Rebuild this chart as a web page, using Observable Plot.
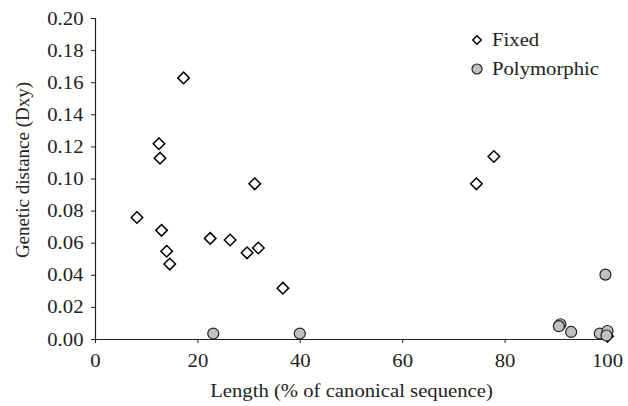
<!DOCTYPE html>
<html><head><meta charset="utf-8">
<script src="https://cdn.jsdelivr.net/npm/d3@7"></script>
<script src="https://cdn.jsdelivr.net/npm/@observablehq/plot@0.6"></script>
<style>
body{margin:0;background:#fff;}
#wrap{position:relative;width:628px;height:406px;font-family:"Liberation Serif","Times New Roman",serif;color:#222;}
#legend{position:absolute;left:470px;top:25px;font-size:19px;line-height:29px;}
#legend div{display:flex;align-items:center;}
#legend svg{margin-right:8px;}
#legend span{display:inline-block;transform:scaleX(1.09);transform-origin:left center;}
</style></head>
<body><div id="wrap"><div id="legend"></div></div>
<script>
const seriesNames = ["Fixed", "Polymorphic"];
const fixedLength = [8.1, 12.9, 13.9, 14.5, 22.4, 26.3, 29.6, 31.8, 36.6, 31.1, 17.2, 12.4, 12.6, 77.8, 74.4, 100];
const fixedDxy    = [0.076, 0.068, 0.055, 0.047, 0.063, 0.062, 0.054, 0.057, 0.032, 0.097, 0.163, 0.122, 0.113, 0.114, 0.097, 0.002];
const polyLength  = [23.0, 39.9, 90.8, 90.5, 92.9, 99.6, 98.5, 100, 99.8];
const polyDxy     = [0.0037, 0.0037, 0.0095, 0.0083, 0.0047, 0.0404, 0.0037, 0.0053, 0.0025];
const xTicks = [0, 20, 40, 60, 80, 100];
const yTicks = [0, 0.02, 0.04, 0.06, 0.08, 0.10, 0.12, 0.14, 0.16, 0.18, 0.20];

const fixed = fixedLength.map((x, i) => ({x, y: fixedDxy[i]}));
const poly = polyLength.map((x, i) => ({x, y: polyDxy[i]}));

const chart = Plot.plot({
  width: 628, height: 406,
  marginLeft: 95, marginRight: 21, marginTop: 18, marginBottom: 67,
  style: {fontFamily: '"Liberation Serif","Times New Roman",serif', fontSize: "19px", color: "#222", background: "white"},
  x: {domain: [0, 100]},
  y: {domain: [0, 0.2]},
  marks: [
    Plot.axisX({ticks: xTicks, tickSize: 4, tickPadding: 10, stroke: "#222", fontSize: 19, label: "Length (% of canonical sequence)", labelAnchor: "center", labelArrow: "none", labelOffset: 57}),
    Plot.axisY({ticks: yTicks, tickSize: 4, tickPadding: 8, stroke: "#222", fontSize: 19, tickFormat: d3.format(".2f"), label: "Genetic distance (Dxy)", labelAnchor: "center", labelArrow: "none", labelOffset: 80}),
    Plot.ruleX([0], {stroke: "#222", strokeWidth: 1.2}),
    Plot.ruleY([0], {stroke: "#222", strokeWidth: 1.2}),
    Plot.dot(fixed, {x: "x", y: "y", symbol: "diamond2", r: 5.2, fill: "white", stroke: "black", strokeWidth: 1.5}),
    Plot.dot(poly, {x: "x", y: "y", r: 5.5, fill: "#c0c0c0", stroke: "#222", strokeWidth: 1.2})
  ]
});
const wrap = document.getElementById("wrap");
wrap.insertBefore(chart, wrap.firstChild);

// widen horizontal text glyphs about their anchor (reference type is horizontally stretched)
const NS = "http://www.w3.org/2000/svg";
Array.from(chart.querySelectorAll("text")).forEach(t => {
  const own = t.getAttribute("transform") || "";
  const par = (t.parentNode.getAttribute && t.parentNode.getAttribute("transform")) || "";
  if (/rotate/.test(own) || /rotate/.test(par)) {
    t.setAttribute("dx", "9"); // reference y label sits slightly above centre
    return;
  }
  const g = document.createElementNS(NS, "g");
  t.parentNode.insertBefore(g, t);
  g.appendChild(t);
  const b = g.getBBox();
  const anchor = getComputedStyle(t).textAnchor;
  const ax = anchor === "end" ? b.x + b.width : anchor === "middle" ? b.x + b.width / 2 : b.x;
  const ay = b.y + b.height / 2;
  g.setAttribute("transform", `translate(${ax},${ay}) scale(1.09,1) translate(${-ax},${-ay})`);
});

const legend = document.getElementById("legend");
legend.innerHTML =
  `<div><svg width="14" height="14" viewBox="-7 -7 14 14"><path d="M0,-4.2L4.2,0L0,4.2L-4.2,0Z" fill="white" stroke="black" stroke-width="1.5"/></svg><span>${seriesNames[0]}</span></div>` +
  `<div><svg width="14" height="14" viewBox="-7 -7 14 14"><circle r="5" fill="#c0c0c0" stroke="#222" stroke-width="1.2"/></svg><span>${seriesNames[1]}</span></div>`;
</script></body></html>
